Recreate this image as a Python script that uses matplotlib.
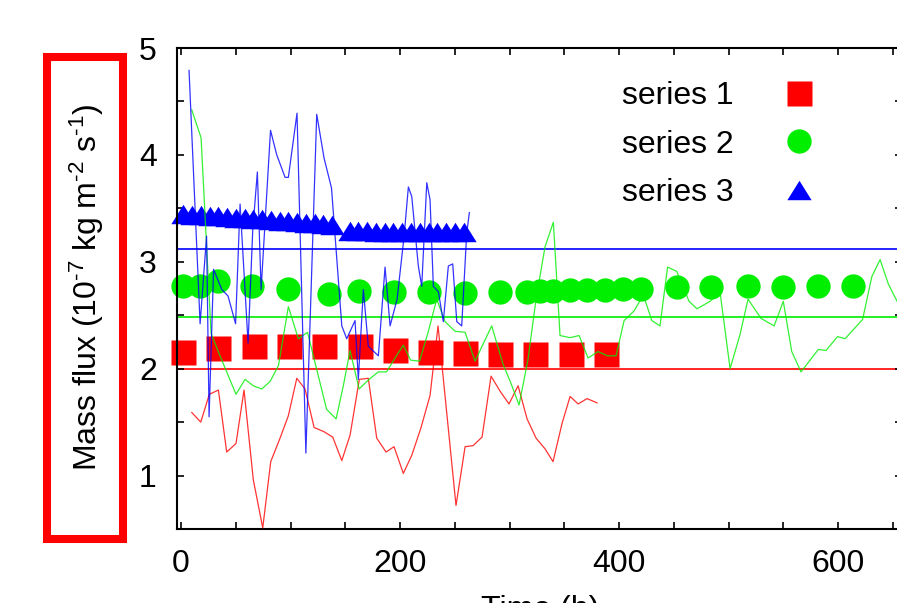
#!/usr/bin/env python3

import matplotlib
matplotlib.use('Agg')
from matplotlib import pyplot as plt
from matplotlib.patches import Rectangle
from matplotlib.ticker import MultipleLocator

plt.rcParams['font.family'] = ['Liberation Sans', 'DejaVu Sans']
plt.rcParams['mathtext.default'] = 'regular'

# series 1 (red): raw line, averaged markers, overall mean
s1_t = [9.8, 18.0, 25.8, 34.1, 41.7, 50.2, 57.5, 66.0, 74.6, 81.9, 90.4, 98.0,
        105.7, 113.2, 121.5, 130.6, 138.5, 146.8, 154.4, 162.8, 171.0, 178.7,
        187.2, 194.5, 203.0, 210.7, 218.9, 227.4, 234.7, 251.1, 259.4, 266.7,
        274.9, 283.1, 291.3, 299.5, 307.8, 316.0, 324.2, 332.4, 339.7, 348.0,
        355.3, 362.6, 370.8, 379.9]
s1_flux = [1.59, 1.50, 1.76, 1.80, 1.22, 1.30, 1.80, 0.96, 0.51, 1.13, 1.35, 1.56,
           1.91, 1.81, 1.45, 1.41, 1.36, 1.14, 1.38, 1.90, 1.91, 1.35,
           1.22, 1.27, 1.02, 1.19, 1.44, 1.75, 2.40, 0.72, 1.27, 1.28,
           1.36, 1.93, 1.79, 1.67, 1.84, 1.53, 1.35, 1.25, 1.13, 1.49,
           1.74, 1.67, 1.72, 1.68]
s1_mark_t = [1.4, 33.8, 66.7, 98.6, 130.6, 163.5, 195.4, 227.4, 259.4, 291.3,
             323.3, 356.2, 388.1]
s1_mark = [2.16, 2.19, 2.21, 2.21, 2.21, 2.21, 2.17, 2.16, 2.15, 2.14,
           2.14, 2.14, 2.14]
s1_mean = 2.0

# series 2 (green)
s2_t = [9.8, 18.3, 27.4, 35.2, 42.9, 50.2, 58.4, 66.0, 73.7, 81.3, 89.0, 98.0,
        107.1, 115.5, 124.2, 132.9, 141.6, 148.2, 154.3, 162.6, 171.7, 180.2,
        187.7, 195.4, 203.0, 209.6, 217.8, 225.6, 233.5, 241.1, 250.2, 259.4,
        268.5, 275.8, 283.7, 294.1, 301.4, 308.7, 316.9, 324.2, 332.4, 340.0,
        346.1, 355.3, 363.5, 371.7, 380.8, 389.5, 397.3, 404.6, 413.7, 422.2,
        429.9, 437.4, 444.3, 452.7, 463.9, 471.2, 483.1, 492.2, 501.4, 510.5,
        517.8, 529.7, 541.6, 550.0, 557.7, 566.2, 582.0, 589.0, 599.5, 606.4,
        622.4, 630.8, 638.4, 646.0, 653.9, 662.1]
s2_flux = [4.42, 4.16, 2.33, 2.13, 1.94, 1.76, 1.90, 1.84, 1.81, 1.88, 2.03, 2.58,
           2.28, 2.34, 1.98, 1.62, 1.53, 1.84, 2.17, 1.81, 1.90, 1.97,
           1.97, 2.10, 2.22, 2.08, 2.07, 2.34, 2.65, 2.44, 2.35, 2.34,
           2.07, 2.23, 2.40, 2.04, 1.86, 1.66, 2.09, 2.65, 3.14, 3.37,
           2.31, 2.29, 2.31, 2.10, 2.16, 2.12, 2.12, 2.45, 2.54, 2.69,
           2.45, 2.40, 2.95, 2.91, 2.63, 2.56, 2.63, 2.72, 2.00, 2.32,
           2.65, 2.47, 2.40, 2.63, 2.16, 1.97, 2.18, 2.17, 2.30, 2.28,
           2.46, 2.86, 3.02, 2.79, 2.63, 2.48]
s2_mark_t = [1.8, 17.4, 33.8, 65.1, 98.0, 135.2, 162.8, 194.5, 226.8, 259.4,
             291.3, 316.0, 327.9, 339.7, 355.3, 370.8, 387.2, 403.7, 420.1,
             452.7, 484.0, 517.5, 550.0, 582.0, 614.0]
s2_mark = [2.77, 2.77, 2.82, 2.77, 2.75, 2.70, 2.73, 2.72, 2.72, 2.71,
           2.72, 2.72, 2.73, 2.73, 2.74, 2.74, 2.74, 2.75, 2.75,
           2.76, 2.76, 2.77, 2.76, 2.77, 2.77]
s2_mean = 2.48

# series 3 (blue)
s3_t = [7.3, 17.4, 23.3, 25.6, 29.7, 37.2, 42.9, 49.8, 53.9, 61.2, 65.5, 69.7,
        73.1, 81.7, 87.4, 95.0, 98.0, 105.9, 114.0, 123.9, 130.6, 137.4, 146.8,
        151.3, 158.9, 161.9, 166.5, 171.0, 180.2, 186.3, 190.9, 197.3, 203.7,
        207.6, 210.7, 216.7, 219.8, 224.4, 227.4, 230.4, 235.0, 239.5, 244.1,
        248.1, 251.8, 256.3, 260.9, 263.3]
s3_flux = [4.79, 2.42, 3.24, 1.55, 2.93, 2.74, 2.68, 2.42, 3.54, 2.24, 3.30, 3.84,
           2.74, 4.23, 4.00, 3.79, 3.79, 4.39, 1.21, 4.38, 3.97, 3.69, 2.40,
           2.28, 2.45, 1.90, 2.74, 2.21, 2.12, 2.95, 2.40, 2.65, 3.24,
           3.70, 3.61, 2.96, 2.77, 3.74, 3.58, 2.77, 2.72, 2.44, 2.96,
           2.98, 2.44, 2.40, 3.27, 3.46]
s3_mark_t = [2, 10, 18, 26, 34, 42, 50, 58, 66, 74, 82, 90, 98, 106, 114, 122,
             130, 138, 154, 162, 170, 178, 186, 194, 202, 210, 218, 226, 234,
             242, 250, 258]
s3_mark = [3.45, 3.44, 3.44, 3.43, 3.43, 3.42, 3.41, 3.41, 3.40, 3.40, 3.39,
           3.38, 3.38, 3.37, 3.36, 3.36, 3.35, 3.34, 3.29, 3.29, 3.29, 3.28,
           3.28, 3.28, 3.28, 3.28, 3.28, 3.28, 3.28, 3.28, 3.28, 3.28]
s3_mean = 3.12

labels = ['series 1', 'series 2', 'series 3']
ylabel = 'Mass flux (10$^{\u2010 7}$ kg m$^{\u2010 2}$ s$^{\u2010 1}$)'
xlabel = 'Time (h)'

RED, GREEN, BLUE = '#ff0000', '#00ee00', '#0000ff'
TRI = [(0, 0.8), (-1, -0.8), (1, -0.8)]


def main():
    fig = plt.figure(figsize=(8.97, 6.03), dpi=100)
    ax = fig.add_axes([177/897, 1 - 529/603, 725/897, 481/603])

    ax.plot(s1_mark_t, s1_mark, 's', color=RED, ms=18, mec='none',
            clip_on=False, zorder=2, label=labels[0])
    ax.plot(s2_mark_t, s2_mark, 'o', color=GREEN, ms=17.5, mec='none',
            clip_on=False, zorder=2, label=labels[1])
    ax.plot(s3_mark_t, s3_mark, ls='none', marker=TRI, color=BLUE, ms=17.5,
            mec='none', clip_on=False, zorder=2, label=labels[2])

    ax.plot(s1_t, s1_flux, color=RED, lw=0.9, alpha=0.8, zorder=3)
    ax.plot(s2_t, s2_flux, color=GREEN, lw=0.9, alpha=0.8, zorder=3)
    ax.plot(s3_t, s3_flux, color=BLUE, lw=0.9, alpha=0.8, zorder=3)

    ax.axhline(s1_mean, color=RED, lw=1.2, zorder=1)
    ax.axhline(s2_mean, color=GREEN, lw=1.2, zorder=1)
    ax.axhline(s3_mean, color=BLUE, lw=1.2, zorder=1)

    ax.set_xlim(-3.7, 658.4)
    ax.set_ylim(0.5, 5)
    ax.set_xticks([0, 200, 400, 600])
    ax.set_yticks([1, 2, 3, 4, 5])
    ax.xaxis.set_minor_locator(MultipleLocator(50))
    ax.yaxis.set_minor_locator(MultipleLocator(0.5))
    ax.tick_params(which='both', direction='in', length=5, width=1.2,
                   top=True, right=True, labelsize=23, pad=14.5)
    for s in ax.spines.values():
        s.set_linewidth(1.5)

    ax.legend(loc='upper left', bbox_to_anchor=(622/897, 1 - 81/603),
              bbox_transform=fig.transFigure, frameon=False, markerfirst=False,
              fontsize=23, borderpad=0, borderaxespad=0, handlelength=1.0,
              handletextpad=1.55, labelspacing=0.58, numpoints=1)

    fig.text(87/897, 1 - 287/603, ylabel, rotation=90, ha='center',
             va='center', fontsize=23)
    fig.text(540/897, 1 - 595/603, xlabel, ha='center', va='top', fontsize=23)

    fig.add_artist(Rectangle((47/897, 1 - 539/603), 76/897, 482/603,
                             transform=fig.transFigure, fill=False,
                             edgecolor=RED, lw=5.8))

    fig.savefig('out.png', dpi=100)


if __name__ == '__main__':
    main()
